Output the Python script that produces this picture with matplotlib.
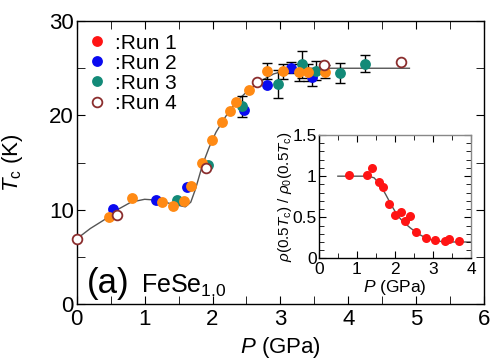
import numpy as np
import matplotlib
matplotlib.use('Agg')
import matplotlib.pyplot as plt
from matplotlib.lines import Line2D
from matplotlib.ticker import MultipleLocator

plt.rcParams['font.family'] = ['Liberation Sans', 'DejaVu Sans']
plt.rcParams['mathtext.fontset'] = 'custom'
plt.rcParams['mathtext.rm'] = 'Liberation Sans'
plt.rcParams['mathtext.it'] = 'Liberation Sans:italic'

# main panel data: Tc vs P
p_run1 = [0.48, 0.82, 1.26, 1.42, 1.58, 1.69, 1.85, 1.99, 2.14, 2.26, 2.35, 2.53,
          2.80, 3.04, 3.27, 3.40, 3.65]
tc_run1 = [9.2, 11.2, 10.8, 10.4, 10.9, 12.55, 14.95, 17.4, 19.3, 20.5, 21.4, 22.7,
           24.75, 24.7, 24.6, 24.6, 24.65]
err_run1 = [0, 0, 0, 0, 0, 0, 0, 0, 0, 0, 0, 0, 0.85, 0.8, 0.9, 0.9, 0.7]

p_run2 = [0.53, 1.17, 1.63, 2.47, 2.80, 3.15, 3.47]
tc_run2 = [10.1, 11.0, 12.4, 20.6, 23.2, 25.05, 24.05]
err_run2 = [0, 0, 0, 0, 0, 0.6, 0.9]

p_run3 = [1.47, 1.93, 2.43, 2.96, 3.32, 3.53, 3.88, 4.25]
tc_run3 = [11.0, 14.7, 20.95, 23.35, 25.4, 24.75, 24.5, 25.5]
err_run3 = [0, 0, 1.1, 1.5, 1.45, 1.0, 1.05, 0.95]

p_run4 = [0.0, 0.60, 1.90, 2.66, 3.64, 4.78]
tc_run4 = [6.9, 9.4, 14.4, 23.5, 25.3, 25.7]

# guide line
p_guide = [0.0, 0.2, 0.4, 0.6, 0.8, 1.0, 1.2, 1.4, 1.6, 1.68, 1.75, 1.85, 1.95, 2.05,
           2.15, 2.25, 2.4, 2.55, 2.7, 2.9, 3.1, 3.3, 4.9]
tc_guide = [6.9, 8.0, 8.9, 10.0, 10.8, 11.1, 11.0, 10.6, 10.3, 10.8, 12.2, 14.7, 16.6,
            18.2, 19.4, 20.5, 21.8, 22.8, 23.6, 24.4, 24.8, 25.0, 25.0]

# inset: resistivity ratio
p_inset = [0.79, 1.25, 1.40, 1.58, 1.68, 1.84, 1.99, 2.15, 2.25, 2.38, 2.54, 2.82,
           3.05, 3.30, 3.41, 3.66]
rho_inset = [1.01, 1.02, 1.10, 0.93, 0.87, 0.66, 0.53, 0.57, 0.46, 0.52, 0.32, 0.25,
             0.23, 0.21, 0.235, 0.21]
p_inset_guide = [0.5, 1.3, 1.45, 1.6, 1.75, 1.9, 2.05, 2.2, 2.4, 2.6, 2.8, 3.0, 3.3, 4.0]
rho_inset_guide = [1.0, 1.0, 0.98, 0.9, 0.78, 0.65, 0.53, 0.45, 0.37, 0.3, 0.25, 0.22,
                   0.2, 0.2]

c_orange = '#ff8a14'
c_red = '#ff1414'
c_blue = '#0a0af0'
c_teal = '#138a78'
c_open = '#8b2e2e'
ms = 7.8

fig = plt.figure(figsize=(4.95, 3.64), dpi=100)
ax = fig.add_axes([0.155, 0.165, 0.823, 0.777])

ax.plot(p_guide, tc_guide, color='#555555', lw=1.0, zorder=1)

def draw_run(p, tc, err, color):
    p = np.array(p); tc = np.array(tc); err = np.array(err)
    m = err > 0
    if m.any():
        ax.errorbar(p[m], tc[m], yerr=err[m], fmt='none', ecolor='black',
                    elinewidth=1.0, capsize=3.5, capthick=1.0, zorder=2)
    ax.plot(p, tc, 'o', color=color, ms=ms, mec='none', zorder=3)

draw_run(p_run2, tc_run2, err_run2, c_blue)
draw_run(p_run3, tc_run3, err_run3, c_teal)
draw_run(p_run1, tc_run1, err_run1, c_orange)
ax.plot(p_run4, tc_run4, 'o', mfc='white', mec=c_open, mew=1.3, ms=ms - 0.8,
        zorder=4, clip_on=False)

ax.set_xlim(0, 6)
ax.set_ylim(0, 30)
ax.xaxis.set_major_locator(MultipleLocator(1))
ax.xaxis.set_minor_locator(MultipleLocator(0.5))
ax.yaxis.set_major_locator(MultipleLocator(10))
ax.yaxis.set_minor_locator(MultipleLocator(5))
ax.tick_params(which='both', direction='in', top=True, right=True, labelsize=16)
ax.tick_params(axis='x', pad=4)
ax.tick_params(axis='y', pad=2)
ax.tick_params(which='major', length=6)
ax.tick_params(which='minor', length=6)
for s in ax.spines.values():
    s.set_linewidth(1.0)
ax.set_xlabel('$P$ (GPa)', fontsize=16, labelpad=3)
ax.set_ylabel('$T_{\\mathrm{c}}$ (K)', fontsize=16)
ax.yaxis.set_label_coords(-0.128, 0.5)

handles = [
    Line2D([], [], ls='none', marker='o', color=c_red, ms=ms, mec='none'),
    Line2D([], [], ls='none', marker='o', color=c_blue, ms=ms, mec='none'),
    Line2D([], [], ls='none', marker='o', color=c_teal, ms=ms, mec='none'),
    Line2D([], [], ls='none', marker='o', mfc='white', mec=c_open, mew=1.3, ms=ms - 0.8),
]
ax.legend(handles, [':Run 1', ':Run 2', ':Run 3', ':Run 4'], loc='upper left',
          frameon=False, fontsize=15, handlelength=0.6, handletextpad=0.55,
          labelspacing=0.05, borderaxespad=0.0, bbox_to_anchor=(0.015, 0.985))

ax.text(0.025, 0.04, '(a)', transform=ax.transAxes, fontsize=25, va='baseline')
ax.text(0.158, 0.04, 'FeSe$_{1.0}$', transform=ax.transAxes, fontsize=18,
        va='baseline')

# inset
ins = fig.add_axes([0.644, 0.29, 0.3085, 0.339])
ins.plot(p_inset_guide, rho_inset_guide, color='#555555', lw=1.0, zorder=1)
ins.plot(p_inset, rho_inset, 'o', color=c_red, ms=6.5, mec='none', zorder=2)
ins.set_xlim(0, 4)
ins.set_ylim(0, 1.5)
ins.xaxis.set_minor_locator(MultipleLocator(0.5))
ins.yaxis.set_minor_locator(MultipleLocator(0.1))
ins.set_xticks([0, 1, 2, 3, 4])
ins.set_xticklabels(['0', '1', '2', '3', '4'])
ins.set_yticks([0, 0.5, 1, 1.5])
ins.set_yticklabels(['0', '0.5', '1', '1.5'])
ins.tick_params(which='both', direction='in', top=True, right=True, labelsize=12.5,
                pad=1.5)
ins.tick_params(axis='x', pad=2.5)
ins.tick_params(which='major', length=5)
ins.tick_params(which='minor', length=3.5)
for side in ['top', 'right']:
    ins.spines[side].set_color('#888888')
for s in ins.spines.values():
    s.set_linewidth(1.0)
ins.set_xlabel('$P$ (GPa)', fontsize=12.5, labelpad=1)
ins.set_ylabel('$\\rho(0.5T_{\\mathrm{c}})$ / $\\rho_0(0.5T_{\\mathrm{c}})$',
               fontsize=11)
ins.yaxis.set_label_coords(-0.16, 0.5)

fig.savefig('out.png', dpi=100)
